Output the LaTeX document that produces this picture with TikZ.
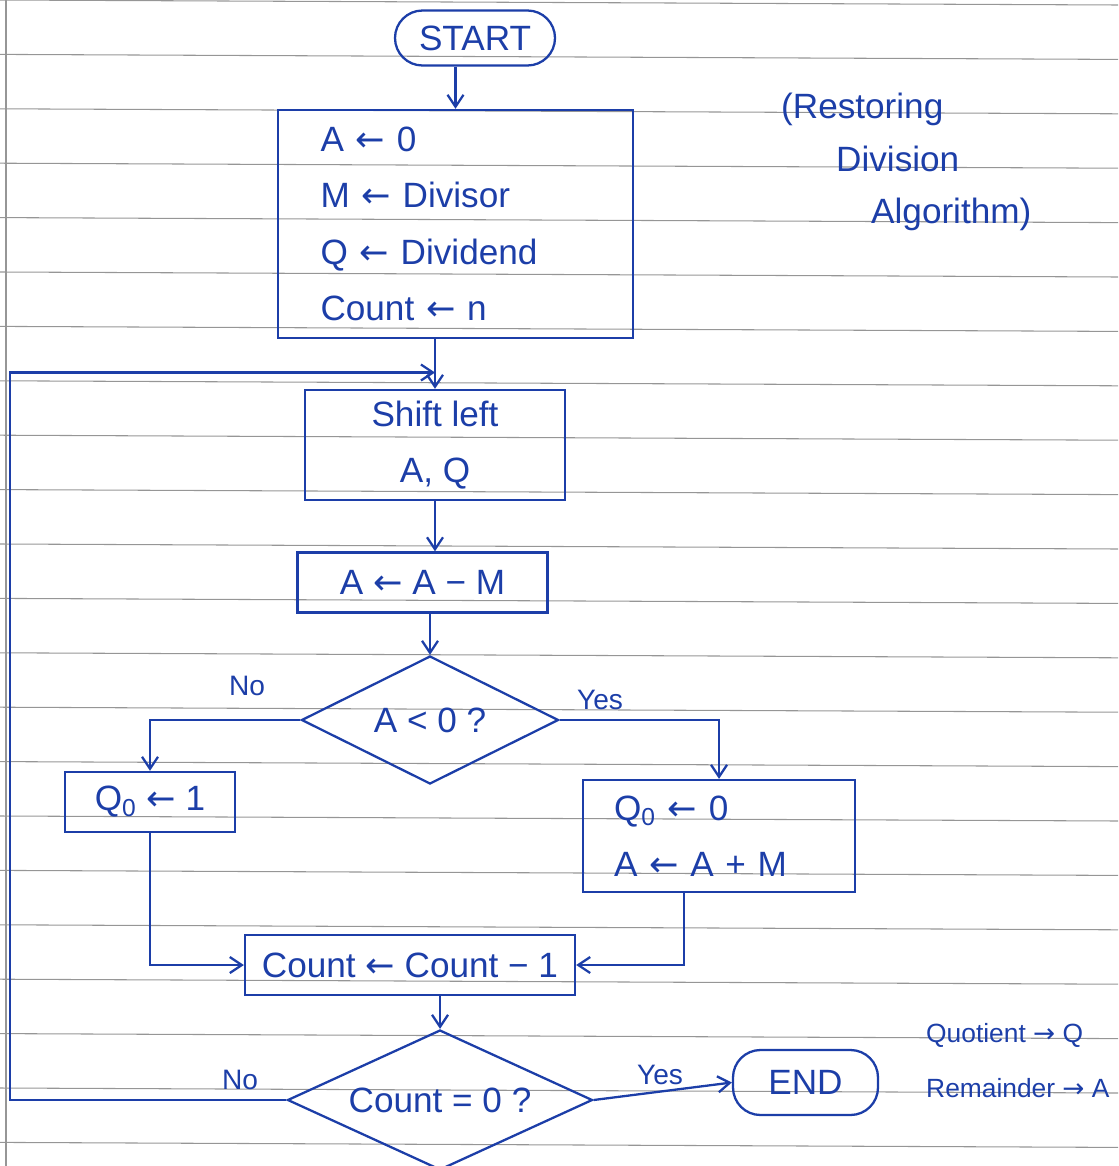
\documentclass[tikz,border=0pt]{standalone}
\usepackage{fontspec}
\setmainfont{Liberation Sans}
\newfontfamily\arrowfont{DejaVu Sans}
\newcommand{\getsarrow}{{\arrowfont ←}}
\newcommand{\toarrow}{{\arrowfont →}}
\usetikzlibrary{shapes.geometric, arrows.meta, positioning}
\definecolor{ink}{RGB}{28,62,168}
\definecolor{rule}{RGB}{150,150,150}

\begin{document}
\begin{tikzpicture}[
    box/.style={draw=ink, line width=1.3pt, text=ink, font=\fontsize{20}{32}\selectfont, inner sep=4pt},
    term/.style={box, rounded corners=0.55cm},
    decision/.style={diamond, draw=ink, line width=1.3pt, text=ink, font=\fontsize{20}{24}\selectfont, inner sep=0pt},
    lbl/.style={text=ink, font=\fontsize{16}{20}\selectfont},
    note/.style={text=ink, font=\fontsize{15}{20}\selectfont, anchor=west},
    arrw/.style={-{Straight Barb[length=2.4mm, width=3.2mm]}, draw=ink, line width=1.3pt}
]
\useasboundingbox (0,0) rectangle (22.36,-23.32);
% Ruled paper
\foreach \k in {0,...,21} {
    \draw[rule, line width=0.6pt] (0,-\k*1.088) -- (22.36,-\k*1.088-0.1);
}
\draw[rule, line width=0.6pt] (0.12,0) -- (0.12,-23.32);

% Steps
\node[term, minimum width=3.2cm, minimum height=1.1cm] (start) at (9.5,-0.76) {START};
\node[box, minimum width=7.1cm, minimum height=4.56cm, text width=5.4cm, align=left] (init) at (9.11,-4.48)
    {A \getsarrow{} 0\\M \getsarrow{} Divisor\\Q \getsarrow{} Dividend\\Count \getsarrow{} n};
\node[box, minimum width=5.2cm, minimum height=2.2cm, align=center] (shift) at (8.7,-8.9) {Shift left\\A, Q};
\node[box, minimum width=5.0cm, minimum height=1.2cm] (sub) at (8.45,-11.65) {A \getsarrow{} A − M};
\node[decision, aspect=2, minimum width=5.14cm, minimum height=2.56cm] (chk) at (8.6,-14.4) {A < 0 ?};
\node[box, minimum width=3.4cm, minimum height=1.2cm] (setone) at (3.0,-16.04) {Q\textsubscript{0} \getsarrow{} 1};
\node[box, minimum width=5.44cm, minimum height=2.24cm, text width=4.2cm, align=left] (restore) at (14.38,-16.72)
    {Q\textsubscript{0} \getsarrow{} 0\\A \getsarrow{} A + M};
\node[box, minimum width=6.6cm, minimum height=1.2cm] (count) at (8.2,-19.3) {Count \getsarrow{} Count − 1};
\node[decision, aspect=2.2, minimum width=6.1cm, minimum height=2.8cm] (done) at (8.8,-22.0) {Count = 0 ?};
\node[term, minimum width=2.9cm, minimum height=1.3cm] (end) at (16.11,-21.65) {END};

% Side notes
\node[text=ink, font=\fontsize{20}{30}\selectfont, align=left, anchor=west] (title) at (15.5,-3.24)
    {(Restoring\\\hspace{1.1cm}Division\\\hspace{1.8cm}Algorithm)};
\node[note] (quot) at (18.4,-20.7) {Quotient \toarrow{} Q};
\node[note] (rem) at (18.4,-21.76) {Remainder \toarrow{} A};

% Branch labels
\node[lbl] (no1) at (4.94,-13.72) {No};
\node[lbl] (yes1) at (12.0,-14.0) {Yes};
\node[lbl] (no2) at (4.8,-21.6) {No};
\node[lbl] (yes2) at (13.2,-21.5) {Yes};

% Connectors
\coordinate (margin) at (0.2,-7.45);
\coordinate (join) at (8.7,-7.45);
\draw[arrw] (start.south -| init.north) -- (init.north);
\draw[arrw] (init.south -| shift.north) -- (shift.north);
\draw[arrw] (done.west) -| (margin) -- (join);
\draw[arrw] (shift.south) -- (shift.south |- sub.north);
\draw[arrw] (sub.south -| chk.north) -- (chk.north);
\draw[arrw] (chk.west) -| (setone.north);
\draw[arrw] (chk.east) -| (restore.north);
\draw[arrw] (setone.south) |- (count.west);
\draw[arrw] ([xshift=-0.7cm]restore.south) |- (count.east);
\draw[arrw] (count.south -| done.north) -- (done.north);
\draw[arrw] (done.east) -- (end.west);
\end{tikzpicture}
\end{document}
